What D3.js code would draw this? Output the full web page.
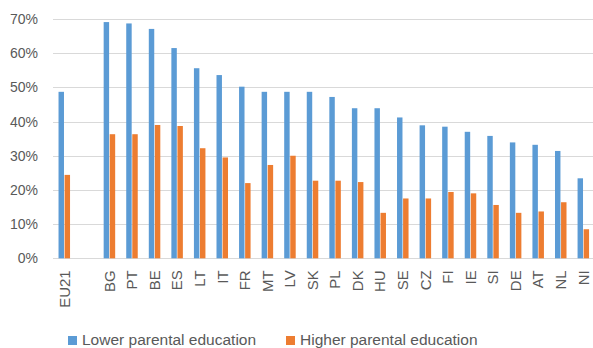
<!DOCTYPE html>
<html>
<head>
<meta charset="utf-8">
<script src="https://cdn.jsdelivr.net/npm/d3@7"></script>
<style>
  html, body { margin: 0; padding: 0; background: #fff; }
  svg { display: block; font-family: "Liberation Sans", Arial, sans-serif; }
</style>
</head>
<body>
<svg id="chart" width="593" height="348"></svg>
<script>
// Countries (empty slot separates the EU21 average from the country bars)
const categories = ["EU21", "", "BG", "PT", "BE", "ES", "LT", "IT", "FR", "MT", "LV", "SK", "PL", "DK", "HU", "SE", "CZ", "FI", "IE", "SI", "DE", "AT", "NL", "NI"];
const seriesNames = ["Lower parental education", "Higher parental education"];
const lowerValues = [48.7, null, 69.1, 68.7, 67.1, 61.5, 55.6, 53.6, 50.2, 48.7, 48.7, 48.7, 47.2, 43.9, 43.9, 41.2, 38.9, 38.5, 37.0, 35.8, 33.9, 33.2, 31.4, 23.4];
const higherValues = [24.4, null, 36.3, 36.3, 39.0, 38.7, 32.2, 29.5, 22.0, 27.3, 30.0, 22.7, 22.7, 22.3, 13.3, 17.5, 17.5, 19.4, 19.0, 15.6, 13.3, 13.7, 16.4, 8.5];
const yTicks = [0, 10, 20, 30, 40, 50, 60, 70];

const colors = ["#5B9BD5", "#ED7D31"];
const svg = d3.select("#chart");

const slotKeys = categories.map((c, i) => i);
const x = d3.scaleBand().domain(slotKeys).range([53, 594.6]).paddingInner(0.49).paddingOuter(0.245);
const xs = d3.scaleBand().domain([0, 1]).range([0, x.bandwidth()]).paddingInner(0.1);
const y = d3.scaleLinear().domain([0, 70]).range([258.3, 19]);

// Horizontal gridlines
svg.append("g")
  .selectAll("line")
  .data(yTicks)
  .join("line")
  .attr("x1", 53).attr("x2", 593)
  .attr("y1", d => Math.round(y(d)) + 0.5).attr("y2", d => Math.round(y(d)) + 0.5)
  .attr("stroke", "#D9D9D9").attr("stroke-width", 1);

// Y axis labels
const yAxis = d3.axisLeft(y).tickValues(yTicks).tickFormat(d => d + "%").tickSize(0).tickPadding(0);
svg.append("g")
  .attr("transform", "translate(38,0)")
  .call(yAxis)
  .call(g => g.select(".domain").remove())
  .call(g => g.selectAll("text")
    .attr("fill", "#595959")
    .style("font-size", "14px")
    .style("font-family", "'Liberation Sans', Arial, sans-serif"));

// Bars
const series = [lowerValues, higherValues];
series.forEach((vals, s) => {
  svg.append("g")
    .selectAll("rect")
    .data(vals.map((v, i) => ({ i, v })).filter(d => d.v != null))
    .join("rect")
    .attr("x", d => x(d.i) + xs(s))
    .attr("width", xs.bandwidth())
    .attr("y", d => y(d.v))
    .attr("height", d => y(0) - y(d.v))
    .attr("fill", colors[s]);
});

// Category labels, rotated
const xAxis = d3.axisBottom(x).tickFormat(i => categories[i]).tickSize(0).tickPadding(0);
svg.append("g")
  .attr("transform", "translate(0,258.3)")
  .call(xAxis)
  .call(g => g.select(".domain").remove())
  .call(g => g.selectAll("text")
    .attr("fill", "#595959")
    .style("font-size", "15px")
    .style("font-family", "'Liberation Sans', Arial, sans-serif")
    .attr("text-anchor", "end")
    .attr("dy", "0.35em")
    .attr("transform", "translate(0,12) rotate(-90)")
    .attr("x", 0).attr("y", 0));

// Legend
const legendItems = [
  { name: seriesNames[0], color: colors[0], x: 68 },
  { name: seriesNames[1], color: colors[1], x: 286 }
];
const legend = svg.append("g");
legendItems.forEach(d => {
  legend.append("rect")
    .attr("x", d.x).attr("y", 336).attr("width", 9).attr("height", 9)
    .attr("fill", d.color);
  legend.append("text")
    .attr("x", d.x + 14).attr("y", 345)
    .attr("fill", "#595959")
    .style("font-size", "15.5px")
    .text(d.name);
});
</script>
</body>
</html>
